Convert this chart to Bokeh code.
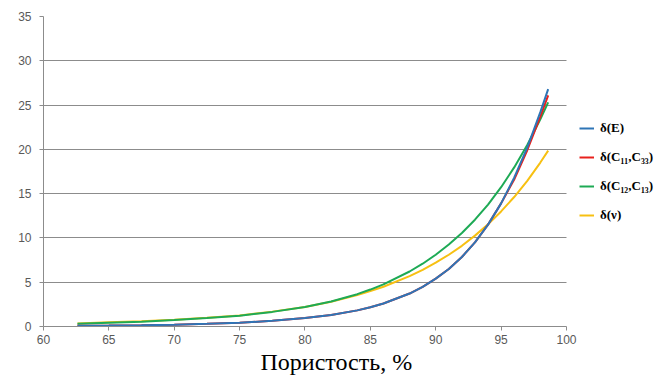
from bokeh.plotting import figure
from bokeh.models import Legend, LegendItem, FixedTicker, Range1d, Title
from bokeh.embed import file_html
from bokeh.resources import INLINE

porosity = [62.6, 65, 67.5, 70, 72.5, 75, 77.5, 80, 82, 84, 85, 86, 88, 89, 90, 91, 92, 93, 94, 95, 96, 97, 98, 98.6]
d_E   = [0.08, 0.11, 0.15, 0.21, 0.30, 0.42, 0.65, 0.95, 1.3, 1.82, 2.18, 2.6, 3.72, 4.48, 5.4, 6.5, 7.85, 9.5, 11.5, 13.9, 16.8, 20.2, 24.2, 26.8]
d_C11 = [0.08, 0.11, 0.15, 0.21, 0.30, 0.42, 0.65, 0.95, 1.3, 1.82, 2.18, 2.6, 3.72, 4.48, 5.4, 6.5, 7.85, 9.5, 11.5, 13.9, 16.6, 19.9, 23.7, 26.1]
d_C12 = [0.30, 0.42, 0.55, 0.72, 0.95, 1.22, 1.65, 2.2, 2.83, 3.65, 4.17, 4.76, 6.21, 7.09, 8.1, 9.25, 10.56, 12.06, 13.77, 15.73, 17.96, 20.5, 23.4, 25.3]
d_nu  = [0.34, 0.48, 0.60, 0.75, 0.98, 1.25, 1.68, 2.2, 2.8, 3.55, 4.0, 4.49, 5.69, 6.4, 7.2, 8.1, 9.11, 10.26, 11.54, 12.99, 14.62, 16.45, 18.51, 19.86]

labels = ["δ(E)", "δ(C₁₁,C₃₃)", "δ(C₁₂,C₁₃)", "δ(ν)"]
colors = ["#2e75b6", "#e8211d", "#1eaa55", "#f7c012"]
x_ticks = [60, 65, 70, 75, 80, 85, 90, 95, 100]
y_ticks = [0, 5, 10, 15, 20, 25, 30, 35]
x_title = "Пористость, %"

p = figure(width=666, height=379, output_backend="svg", toolbar_location=None,
           x_range=Range1d(60, 107.65), y_range=Range1d(0, 35))
p.min_border_left = 43
p.min_border_top = 16
p.min_border_right = 0
p.min_border_bottom = 53
p.outline_line_color = None
p.background_fill_color = "white"

p.xgrid.grid_line_color = None
p.ygrid.grid_line_color = "#8c8c8c"
p.ygrid.grid_line_width = 1
p.ygrid.cross_bounds = (60, 100)

for ax in (p.xaxis[0], p.yaxis[0]):
    ax.axis_line_color = "#8c8c8c"
    ax.major_tick_line_color = "#8c8c8c"
    ax.major_tick_out = 4
    ax.major_tick_in = 0
    ax.minor_tick_line_color = None
    ax.major_label_text_font = "Liberation Sans"
    ax.major_label_text_font_size = "12px"
    ax.major_label_text_color = "#595959"

p.xaxis.bounds = (60, 100)
p.xaxis.ticker = FixedTicker(ticks=x_ticks)
p.yaxis.ticker = FixedTicker(ticks=y_ticks)
p.xaxis.major_label_standoff = 4
p.yaxis.major_label_standoff = 8

t = Title(text=x_title, align="left", offset=217, standoff=0,
          text_font="Liberation Serif", text_font_style="normal",
          text_font_size="24px", text_color="black")
p.add_layout(t, "below")

series = [d_E, d_C11, d_C12, d_nu]
renderers = [None] * 4
for i in [3, 2, 1, 0]:
    renderers[i] = p.line(porosity, series[i], line_color=colors[i], line_width=2)

items = [LegendItem(label=l, renderers=[r]) for l, r in zip(labels, renderers)]
legend = Legend(items=items, location=(536, 101), orientation="vertical")
legend.padding = 0
legend.margin = 0
legend.border_line_alpha = 0
legend.background_fill_alpha = 0
legend.glyph_width = 15
legend.glyph_height = 20
legend.label_height = 20
legend.spacing = 9
legend.label_standoff = 6
legend.label_text_font = "Liberation Serif"
legend.label_text_font_style = "bold"
legend.label_text_font_size = "13px"
legend.label_text_color = "black"
p.add_layout(legend, "center")

open("out.html", "w").write(file_html(p, INLINE))
